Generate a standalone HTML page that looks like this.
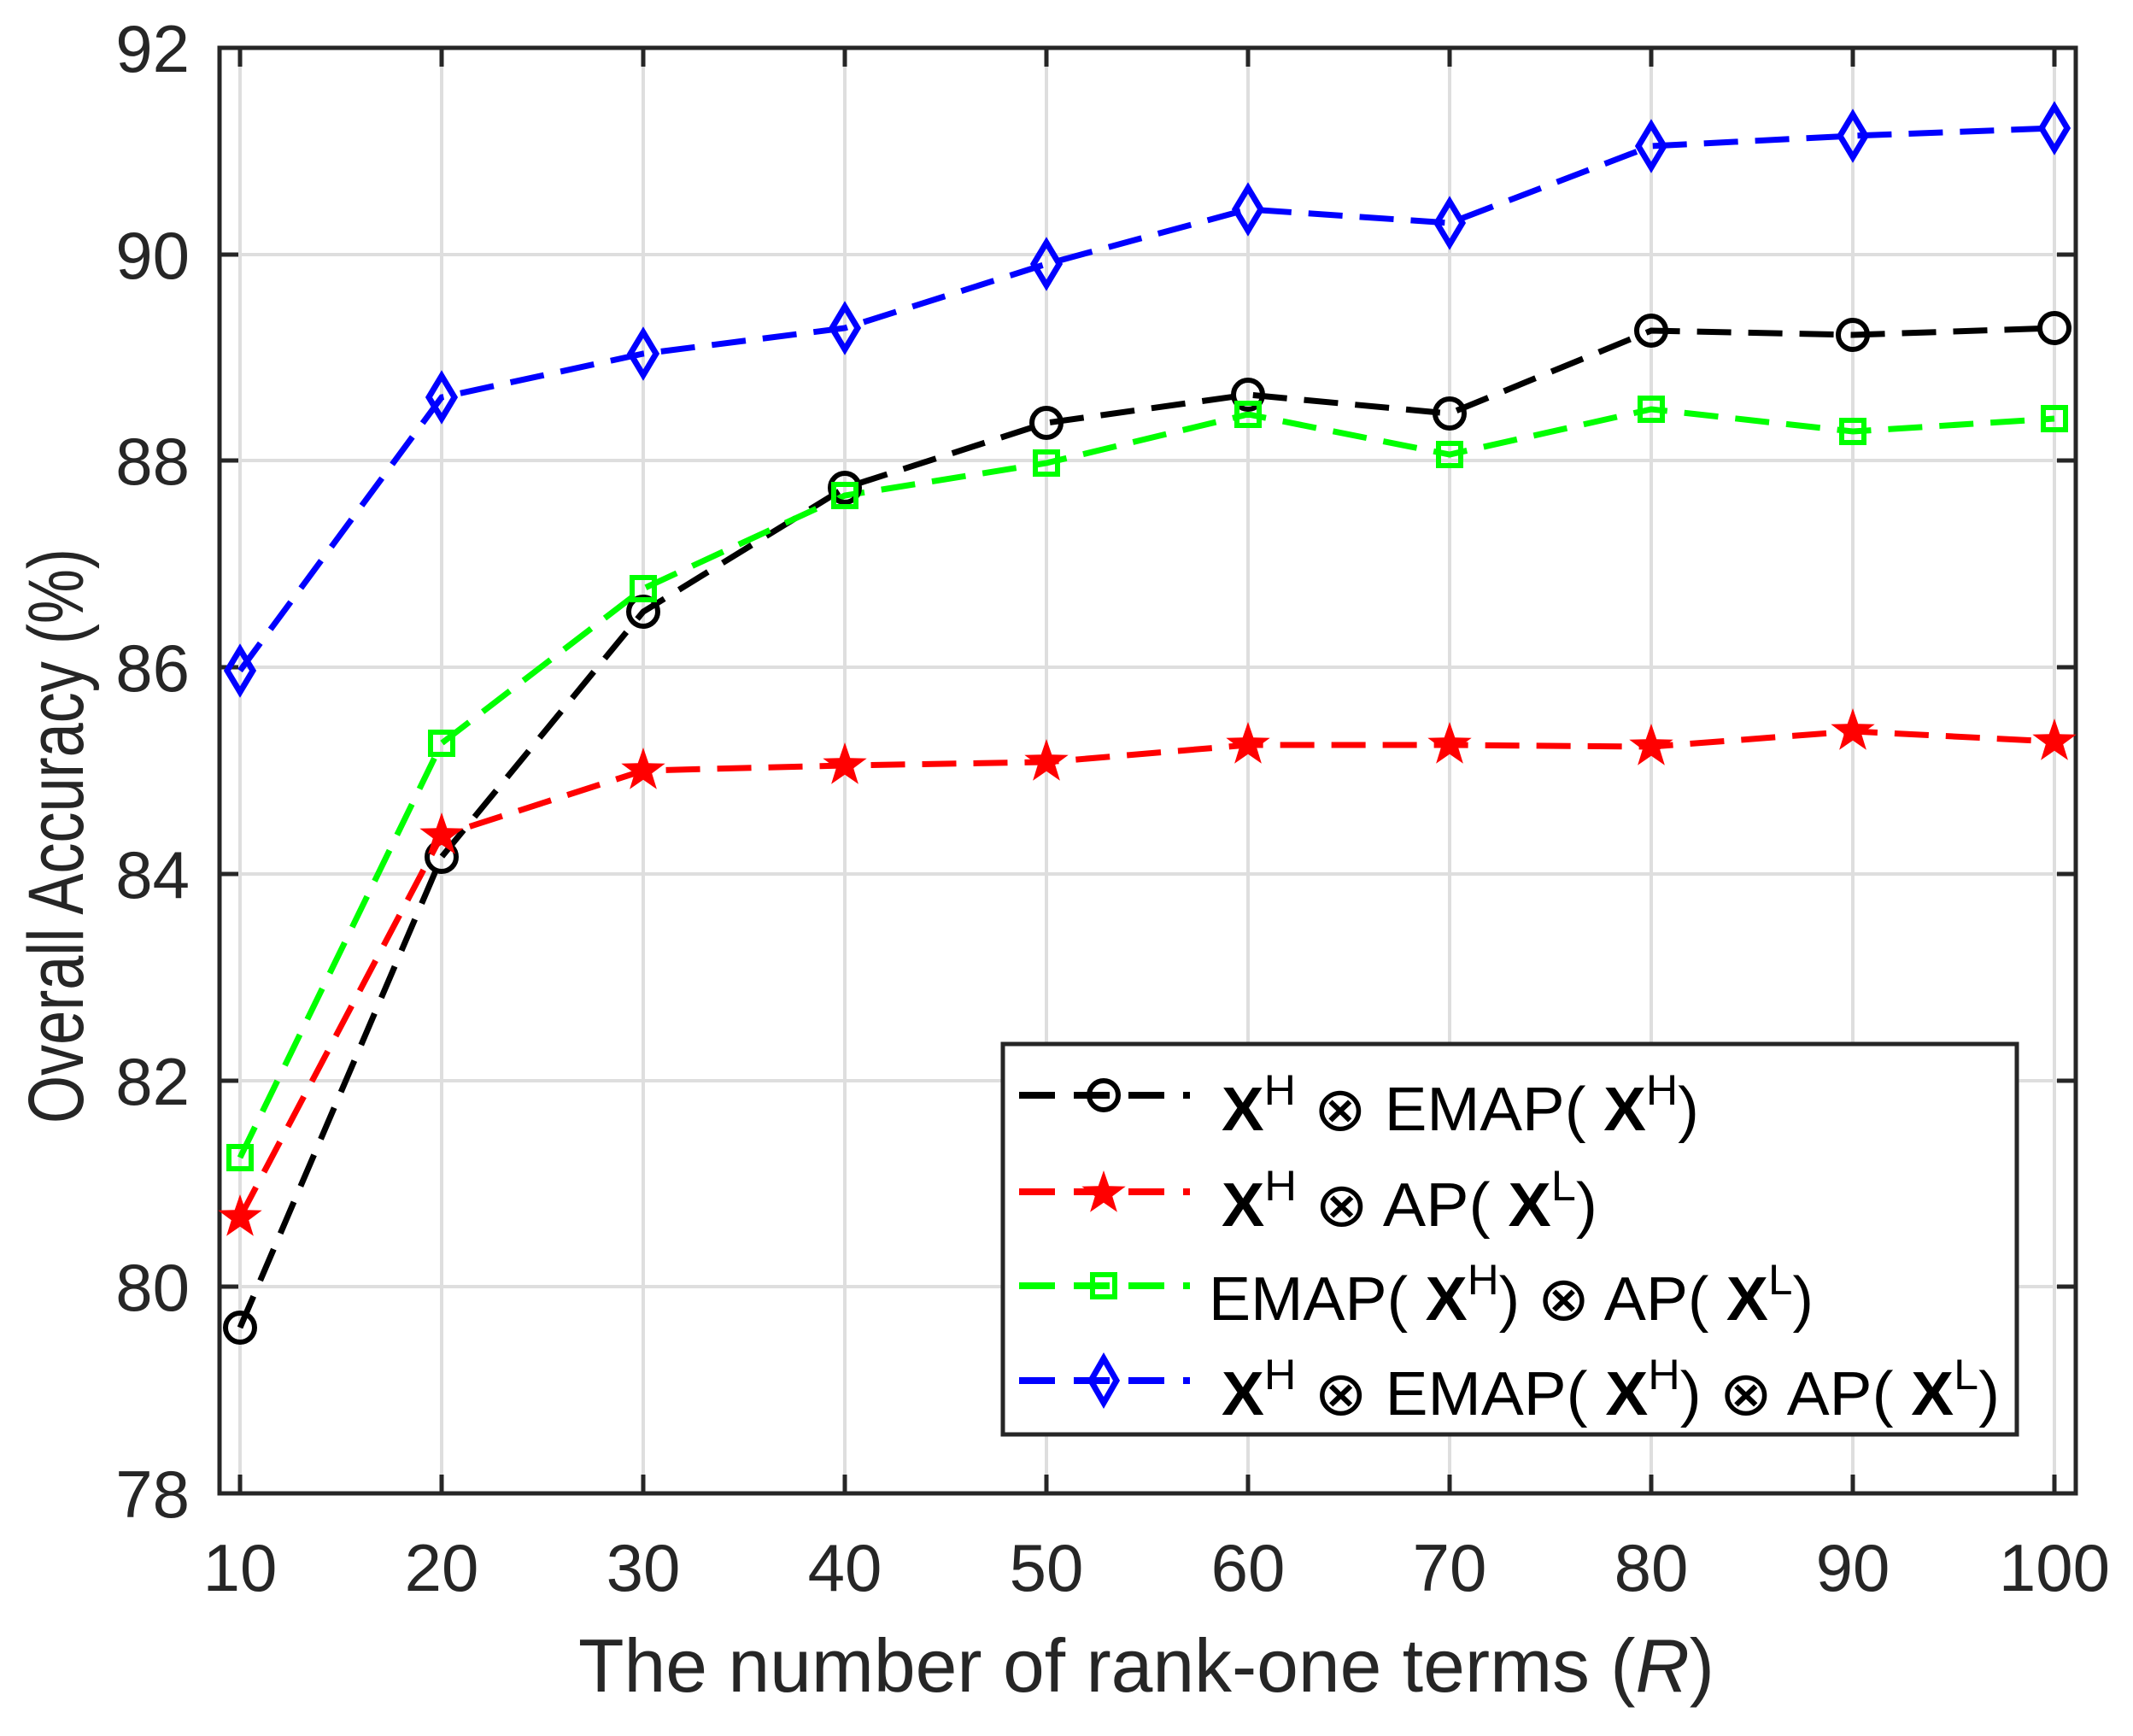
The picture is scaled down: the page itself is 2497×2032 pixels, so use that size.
<!DOCTYPE html>
<html><head><meta charset="utf-8"><style>html,body{margin:0;padding:0;background:#fff}svg{display:block}</style></head>
<body>
<svg width="2497" height="2032" viewBox="0 0 2497 2032" xmlns="http://www.w3.org/2000/svg" font-family="Liberation Sans, sans-serif">
<defs>
<path id="star" d="M0,-27 L6.3,-8.7 L25.7,-8.3 L10.2,3.3 L15.9,21.8 L0,10.7 L-15.9,21.8 L-10.2,3.3 L-25.7,-8.3 L-6.3,-8.7 Z"/>
</defs>
<rect width="2497" height="2032" fill="#fff"/>
<g stroke="#dedede" stroke-width="4">
<line x1="281" y1="56" x2="281" y2="1748"/><line x1="517" y1="56" x2="517" y2="1748"/><line x1="753" y1="56" x2="753" y2="1748"/><line x1="989" y1="56" x2="989" y2="1748"/><line x1="1225" y1="56" x2="1225" y2="1748"/><line x1="1461" y1="56" x2="1461" y2="1748"/><line x1="1697" y1="56" x2="1697" y2="1748"/><line x1="1933" y1="56" x2="1933" y2="1748"/><line x1="2169" y1="56" x2="2169" y2="1748"/><line x1="2405" y1="56" x2="2405" y2="1748"/>
<line x1="257" y1="1506" x2="2430" y2="1506"/><line x1="257" y1="1265" x2="2430" y2="1265"/><line x1="257" y1="1023" x2="2430" y2="1023"/><line x1="257" y1="781" x2="2430" y2="781"/><line x1="257" y1="539" x2="2430" y2="539"/><line x1="257" y1="298" x2="2430" y2="298"/>
</g>
<g stroke="#262626" stroke-width="5">
<path d="M281,1748v-22M517,1748v-22M753,1748v-22M989,1748v-22M1225,1748v-22M1461,1748v-22M1697,1748v-22M1933,1748v-22M2169,1748v-22M2405,1748v-22"/>
<path d="M281,56v22M517,56v22M753,56v22M989,56v22M1225,56v22M1461,56v22M1697,56v22M1933,56v22M2169,56v22M2405,56v22"/>
<path d="M257,1506h22M257,1265h22M257,1023h22M257,781h22M257,539h22M257,298h22"/>
<path d="M2430,1506h-22M2430,1265h-22M2430,1023h-22M2430,781h-22M2430,539h-22M2430,298h-22"/>
<rect x="257" y="56" width="2173" height="1692" fill="none"/>
</g>
<g fill="#262626" font-size="78" text-anchor="end">
<text x="222" y="1776">78</text><text x="222" y="1534">80</text><text x="222" y="1293">82</text><text x="222" y="1051">84</text><text x="222" y="809">86</text><text x="222" y="567">88</text><text x="222" y="326">90</text><text x="222" y="84">92</text>
</g>
<g fill="#262626" font-size="78" text-anchor="middle">
<text x="281" y="1862">10</text><text x="517" y="1862">20</text><text x="753" y="1862">30</text><text x="989" y="1862">40</text><text x="1225" y="1862">50</text><text x="1461" y="1862">60</text><text x="1697" y="1862">70</text><text x="1933" y="1862">80</text><text x="2169" y="1862">90</text><text x="2405" y="1862">100</text>
</g>
<text x="677" y="1980" font-size="88" fill="#262626" textLength="1330" lengthAdjust="spacingAndGlyphs">The number of rank-one terms (<tspan font-style="italic">R</tspan>)</text>
<text transform="translate(97,1315) rotate(-90)" x="0" y="0" font-size="92" fill="#262626" textLength="673" lengthAdjust="spacingAndGlyphs">Overall Accuracy (%)</text>

<g fill="none" stroke-width="7" stroke-dasharray="40 20">
<polyline stroke="#000" points="281,1554 517,1003 753,716 989,571 1225,495 1461,462 1697,484 1933,387 2169,392 2405,384"/>
<polyline stroke="#f00" points="281,1425 517,978 753,902 989,896 1225,892 1461,872 1697,872 1933,874 2169,856 2405,868"/>
<polyline stroke="#0f0" points="281,1355 517,870 753,689 989,580 1225,542 1461,485 1697,532 1933,479 2169,505 2405,490"/>
<polyline stroke="#00f" points="281,785 517,465 753,414 989,384 1225,309 1461,245 1697,261 1933,171 2169,159 2405,150"/>
</g>
<g fill="none" stroke="#000" stroke-width="6">
<circle cx="281" cy="1554" r="17"/><circle cx="517" cy="1003" r="17"/><circle cx="753" cy="716" r="17"/><circle cx="989" cy="571" r="17"/><circle cx="1225" cy="495" r="17"/><circle cx="1461" cy="462" r="17"/><circle cx="1697" cy="484" r="17"/><circle cx="1933" cy="387" r="17"/><circle cx="2169" cy="392" r="17"/><circle cx="2405" cy="384" r="17"/>
</g>
<g fill="#f00">
<use href="#star" x="281" y="1425"/><use href="#star" x="517" y="978"/><use href="#star" x="753" y="902"/><use href="#star" x="989" y="896"/><use href="#star" x="1225" y="892"/><use href="#star" x="1461" y="872"/><use href="#star" x="1697" y="872"/><use href="#star" x="1933" y="874"/><use href="#star" x="2169" y="856"/><use href="#star" x="2405" y="868"/>
</g>
<g fill="none" stroke="#0f0" stroke-width="6">
<rect x="268" y="1342" width="26" height="26"/><rect x="504" y="857" width="26" height="26"/><rect x="740" y="676" width="26" height="26"/><rect x="976" y="567" width="26" height="26"/><rect x="1212" y="529" width="26" height="26"/><rect x="1448" y="472" width="26" height="26"/><rect x="1684" y="519" width="26" height="26"/><rect x="1920" y="466" width="26" height="26"/><rect x="2156" y="492" width="26" height="26"/><rect x="2392" y="477" width="26" height="26"/>
</g>
<g fill="none" stroke="#00f" stroke-width="7">
<path d="M281,760l15,25l-15,25l-15,-25z"/><path d="M517,440l15,25l-15,25l-15,-25z"/><path d="M753,389l15,25l-15,25l-15,-25z"/><path d="M989,359l15,25l-15,25l-15,-25z"/><path d="M1225,284l15,25l-15,25l-15,-25z"/><path d="M1461,220l15,25l-15,25l-15,-25z"/><path d="M1697,236l15,25l-15,25l-15,-25z"/><path d="M1933,146l15,25l-15,25l-15,-25z"/><path d="M2169,134l15,25l-15,25l-15,-25z"/><path d="M2405,125l15,25l-15,25l-15,-25z"/>
</g>

<rect x="1174" y="1222" width="1187" height="457" fill="#fff" stroke="#262626" stroke-width="5"/>
<g fill="none" stroke-width="8" stroke-dasharray="42 22">
<line x1="1193" y1="1282" x2="1393" y2="1282" stroke="#000"/>
<line x1="1193" y1="1395" x2="1393" y2="1395" stroke="#f00"/>
<line x1="1193" y1="1505" x2="1393" y2="1505" stroke="#0f0"/>
<line x1="1193" y1="1616" x2="1393" y2="1616" stroke="#00f"/>
</g>
<circle cx="1292" cy="1282" r="17" fill="none" stroke="#000" stroke-width="6"/>
<use href="#star" x="1292" y="1397" fill="#f00"/>
<rect x="1279" y="1492" width="26" height="26" fill="none" stroke="#0f0" stroke-width="6"/>
<path d="M1292,1590l15,26l-15,26l-15,-26z" fill="none" stroke="#00f" stroke-width="7"/>
<g font-size="72" fill="#000" font-family="Liberation Sans, DejaVu Sans, sans-serif">
<text x="1430" y="1323" textLength="559" lengthAdjust="spacingAndGlyphs"><tspan font-weight="bold">X</tspan><tspan font-size="50" dy="-30">H</tspan><tspan dy="30"> ⊗ EMAP( </tspan><tspan font-weight="bold">X</tspan><tspan font-size="50" dy="-30">H</tspan><tspan dy="30">)</tspan></text>
<text x="1430" y="1435" textLength="440" lengthAdjust="spacingAndGlyphs"><tspan font-weight="bold">X</tspan><tspan font-size="50" dy="-30">H</tspan><tspan dy="30"> ⊗ AP( </tspan><tspan font-weight="bold">X</tspan><tspan font-size="50" dy="-30">L</tspan><tspan dy="30">)</tspan></text>
<text x="1415" y="1545" textLength="708" lengthAdjust="spacingAndGlyphs">EMAP( <tspan font-weight="bold">X</tspan><tspan font-size="50" dy="-30">H</tspan><tspan dy="30">) ⊗ AP( </tspan><tspan font-weight="bold">X</tspan><tspan font-size="50" dy="-30">L</tspan><tspan dy="30">)</tspan></text>
<text x="1430" y="1656" textLength="911" lengthAdjust="spacingAndGlyphs"><tspan font-weight="bold">X</tspan><tspan font-size="50" dy="-30">H</tspan><tspan dy="30"> ⊗ EMAP( </tspan><tspan font-weight="bold">X</tspan><tspan font-size="50" dy="-30">H</tspan><tspan dy="30">) ⊗ AP( </tspan><tspan font-weight="bold">X</tspan><tspan font-size="50" dy="-30">L</tspan><tspan dy="30">)</tspan></text>
</g>
</svg>
</body></html>
